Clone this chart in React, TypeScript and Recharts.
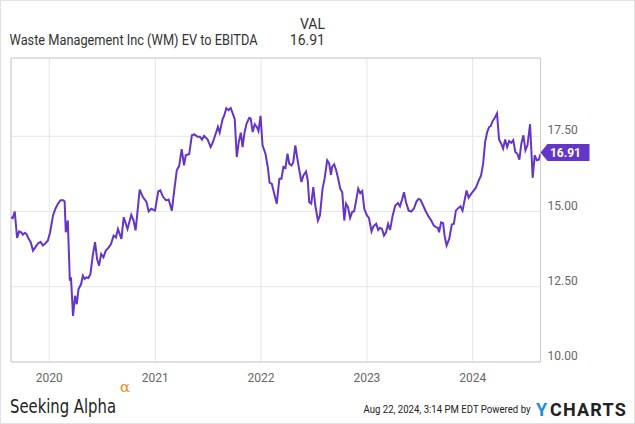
import { LineChart, Line, XAxis, YAxis, CartesianGrid, ReferenceArea, ReferenceDot } from 'recharts';

// WM EV/EBITDA (date, value)
const dates = [
  '2019-08-22', '2019-08-28', '2019-09-04', '2019-09-12', '2019-09-19', '2019-09-26', '2019-10-02', '2019-10-08',
  '2019-10-14', '2019-10-22', '2019-10-29', '2019-11-06', '2019-11-14', '2019-11-23', '2019-12-02', '2019-12-10',
  '2019-12-18', '2019-12-27', '2020-01-04', '2020-01-14', '2020-01-22', '2020-01-31', '2020-02-09', '2020-02-18',
  '2020-02-23', '2020-02-27', '2020-03-05', '2020-03-12', '2020-03-16', '2020-03-23', '2020-03-30', '2020-04-05',
  '2020-04-11', '2020-04-20', '2020-04-26', '2020-05-02', '2020-05-08', '2020-05-15', '2020-05-22', '2020-05-30',
  '2020-06-07', '2020-06-14', '2020-06-21', '2020-06-28', '2020-07-06', '2020-07-14', '2020-07-23', '2020-08-01',
  '2020-08-10', '2020-08-18', '2020-08-25', '2020-09-06', '2020-09-14', '2020-09-27', '2020-10-10', '2020-10-18',
  '2020-10-25', '2020-11-08', '2020-11-19', '2020-12-01', '2020-12-09', '2020-12-18', '2020-12-31', '2021-01-11',
  '2021-01-18', '2021-01-28', '2021-02-07', '2021-02-16', '2021-02-27', '2021-03-08', '2021-03-16', '2021-03-24',
  '2021-04-02', '2021-04-10', '2021-04-16', '2021-04-28', '2021-05-07', '2021-05-16', '2021-05-27', '2021-06-04',
  '2021-06-11', '2021-06-18', '2021-06-30', '2021-07-11', '2021-07-19', '2021-08-05', '2021-08-11', '2021-08-21',
  '2021-08-27', '2021-09-03', '2021-09-11', '2021-09-18', '2021-09-25', '2021-10-02', '2021-10-09', '2021-10-16',
  '2021-10-23', '2021-10-29', '2021-11-05', '2021-11-12', '2021-11-21', '2021-11-26', '2021-12-03', '2021-12-10',
  '2021-12-17', '2021-12-23', '2021-12-30', '2022-01-06', '2022-01-16', '2022-01-24', '2022-01-30', '2022-02-07',
  '2022-02-14', '2022-02-24', '2022-03-05', '2022-03-12', '2022-03-19', '2022-03-26', '2022-04-02', '2022-04-08',
  '2022-04-16', '2022-04-22', '2022-04-29', '2022-05-08', '2022-05-20', '2022-05-27', '2022-06-05', '2022-06-11',
  '2022-06-16', '2022-06-23', '2022-06-30', '2022-07-07', '2022-07-16', '2022-07-23', '2022-08-01', '2022-08-08',
  '2022-08-17', '2022-08-24', '2022-08-30', '2022-09-03', '2022-09-10', '2022-09-17', '2022-09-24', '2022-10-01',
  '2022-10-08', '2022-10-15', '2022-10-21', '2022-10-28', '2022-11-04', '2022-11-11', '2022-11-18', '2022-11-24',
  '2022-12-02', '2022-12-09', '2022-12-16', '2022-12-23', '2023-01-01', '2023-01-08', '2023-01-17', '2023-01-23',
  '2023-02-02', '2023-02-09', '2023-02-15', '2023-02-22', '2023-03-01', '2023-03-08', '2023-03-15', '2023-03-22',
  '2023-03-31', '2023-04-09', '2023-04-18', '2023-04-25', '2023-05-02', '2023-05-09', '2023-05-16', '2023-05-25',
  '2023-06-03', '2023-06-12', '2023-06-21', '2023-06-28', '2023-07-05', '2023-07-14', '2023-07-23', '2023-08-02',
  '2023-08-11', '2023-08-20', '2023-08-27', '2023-09-03', '2023-09-07', '2023-09-14', '2023-09-21', '2023-09-26',
  '2023-10-03', '2023-10-12', '2023-10-21', '2023-10-28', '2023-11-04', '2023-11-13', '2023-11-20', '2023-11-27',
  '2023-12-04', '2023-12-11', '2023-12-18', '2023-12-27', '2024-01-03', '2024-01-12', '2024-01-21', '2024-01-30',
  '2024-02-06', '2024-02-13', '2024-02-20', '2024-02-27', '2024-03-03', '2024-03-10', '2024-03-16', '2024-03-25',
  '2024-04-01', '2024-04-08', '2024-04-15', '2024-04-22', '2024-04-29', '2024-05-06', '2024-05-13', '2024-05-20',
  '2024-05-27', '2024-06-03', '2024-06-10', '2024-06-17', '2024-06-24', '2024-07-01', '2024-07-08', '2024-07-17',
  '2024-07-26', '2024-08-02', '2024-08-09', '2024-08-16', '2024-08-22',
];

const values = [
  14.8, 14.78, 15.0, 14.12, 14.34, 14.31, 14.23, 14.29,
  14.26, 14.09, 13.98, 13.7, 13.81, 13.94, 13.99, 13.87,
  13.94, 14.03, 14.31, 14.87, 15.09, 15.26, 15.37, 15.37,
  15.34, 14.31, 14.7, 12.7, 12.81, 11.53, 12.2, 11.92,
  12.42, 12.59, 12.87, 12.76, 12.81, 12.79, 12.92, 13.53,
  13.98, 13.42, 13.2, 13.59, 13.48, 13.7, 13.79, 13.92,
  14.2, 14.14, 14.42, 14.09, 14.81, 14.42, 14.89, 14.7,
  14.37, 15.73, 15.48, 15.33, 15.0, 15.09, 15.03, 15.67,
  15.7, 15.48, 15.37, 15.4, 15.03, 15.76, 16.37, 16.51,
  17.07, 16.53, 16.87, 16.91, 17.53, 17.56, 17.48, 17.48,
  17.39, 17.51, 17.4, 17.14, 17.31, 17.81, 17.62, 18.06,
  18.2, 18.43, 18.37, 18.44, 18.26, 18.07, 16.81, 17.31,
  17.62, 17.14, 17.64, 17.92, 18.11, 18.09, 17.64, 17.9,
  17.81, 17.67, 18.18, 17.2, 16.92, 16.48, 15.96, 15.92,
  15.64, 15.26, 16.09, 16.09, 16.48, 16.44, 16.92, 16.59,
  16.53, 16.64, 17.2, 16.64, 15.98, 16.2, 16.33, 16.03,
  15.31, 15.26, 15.81, 15.2, 14.7, 14.87, 15.76, 16.09,
  16.7, 16.59, 16.22, 16.48, 16.57, 16.37, 16.09, 15.76,
  15.64, 14.7, 15.26, 15.14, 14.79, 14.98, 15.01, 15.31,
  15.76, 15.61, 15.68, 15.09, 14.87, 14.79, 14.34, 14.5,
  14.59, 14.39, 14.46, 14.42, 14.2, 14.31, 14.59, 14.39,
  14.87, 15.2, 15.28, 15.17, 15.39, 15.64, 15.31, 15.03,
  15.0, 15.09, 15.33, 15.42, 15.39, 15.2, 15.01, 14.83,
  14.7, 14.53, 14.48, 14.46, 14.31, 14.64, 14.61, 14.2,
  13.87, 14.09, 14.57, 14.59, 15.03, 15.12, 15.17, 15.03,
  15.37, 15.7, 15.46, 15.59, 15.68, 15.79, 16.01, 16.2,
  16.59, 17.31, 17.64, 17.81, 17.83, 18.01, 18.09, 18.26,
  17.39, 17.26, 17.09, 17.39, 17.14, 17.34, 17.28, 17.37,
  16.98, 16.92, 16.72, 17.26, 17.53, 17.03, 17.2, 17.9,
  16.12, 16.87, 16.7, 16.72, 16.91,
];

const yearTicks = [2020, 2021, 2022, 2023, 2024];
const valueTicks = [10, 12.5, 15, 17.5];

const toTs = (s: string) => {
  const [y, m, d] = s.split('-').map(Number);
  return Date.UTC(y, m - 1, d);
};

const data = dates.map((d, i) => ({ t: toTs(d), v: values[i] }));
const xStart = data[0].t;
const xEnd = data[data.length - 1].t;
const lastValue = values[values.length - 1];

const PURPLE = '#6435c9';
const FONT = 'Roboto, "Noto Sans", sans-serif';
const NARROW = '"Liberation Sans Narrow", "DejaVu Sans Condensed", sans-serif';

const XTick = ({ x, y, payload }: any) => (
  <text x={x} y={y + 20} textAnchor="middle" fill="#666" fontSize={12} fontFamily={FONT}>
    {new Date(payload.value).getUTCFullYear()}
  </text>
);

const YTick = ({ x, y, payload }: any) => (
  <text x={x + 7} y={y - 2} textAnchor="start" fill="#666" fontSize={12} fontFamily={FONT}>
    {Number(payload.value).toFixed(2)}
  </text>
);

const Tag = ({ cx, cy }: any) => {
  const c = cy - 1.5;
  return (
    <g>
      <path
        d={`M${cx},${c} L${cx + 7},${c - 8.5} H${cx + 49} V${c + 8.5} H${cx + 7} Z`}
        fill={PURPLE}
      />
      <text x={cx + 25} y={c + 4.3} textAnchor="middle" fill="#fff" fontSize={12} fontWeight="bold" fontFamily={FONT}>
        {lastValue.toFixed(2)}
      </text>
    </g>
  );
};

export default function App() {
  return (
    <div
      style={{
        position: 'fixed',
        left: 0,
        top: 0,
        width: 635,
        height: 424,
        background: '#fff',
        boxSizing: 'border-box',
        border: '1px solid #e2e2e2',
        overflow: 'hidden',
      }}
    >
      <div style={{ position: 'absolute', left: -1, top: -1 }}>
        <LineChart width={635} height={424} data={data} margin={{ top: 58, right: 0, bottom: 0, left: 11 }}>
          <CartesianGrid stroke="#e6e6e6" strokeWidth={1} />
          <XAxis
            dataKey="t"
            type="number"
            scale="time"
            domain={[xStart, xEnd]}
            ticks={yearTicks.map((y) => Date.UTC(y, 0, 1))}
            interval={0}
            tick={<XTick />}
            tickLine={false}
            axisLine={false}
            tickSize={0}
            tickMargin={0}
            height={62}
            allowDataOverflow
          />
          <YAxis
            orientation="right"
            domain={[10, 20.1]}
            ticks={valueTicks}
            interval={0}
            tick={<YTick />}
            tickLine={false}
            axisLine={false}
            tickSize={0}
            tickMargin={0}
            width={94.5}
            allowDataOverflow
          />
          <ReferenceArea
            x1={xStart}
            x2={xEnd}
            y1={10}
            y2={20.1}
            fill="none"
            fillOpacity={0}
            stroke="#cccccc"
            strokeWidth={1}
            ifOverflow="visible"
          />
          <Line
            type="linear"
            dataKey="v"
            stroke={PURPLE}
            strokeWidth={2}
            dot={false}
            activeDot={false}
            isAnimationActive={false}
          />
          <ReferenceDot x={xEnd} y={lastValue} ifOverflow="visible" shape={<Tag />} />
        </LineChart>
      </div>
      <svg width={635} height={424} style={{ position: 'absolute', left: -1, top: -1, pointerEvents: 'none' }}>
        <text x={325} y={29} textAnchor="end" fontSize={14} fill="#333" fontFamily={FONT}>
          VAL
        </text>
        <text x={325} y={44.5} textAnchor="end" fontSize={14} fill="#333" fontFamily={FONT}>
          {lastValue.toFixed(2)}
        </text>
        <text
          x={9.5}
          y={44.5}
          fontSize={14.5}
          fill="#333"
          fontFamily={FONT}
          textLength={248}
          lengthAdjust="spacingAndGlyphs"
        >
          Waste Management Inc (WM) EV to EBITDA
        </text>

        <text
          x={10}
          y={413}
          fontSize={19}
          fill="#222"
          fontFamily={NARROW}
          textLength={106}
          lengthAdjust="spacingAndGlyphs"
        >
          Seeking Alpha
        </text>
        <text x={120} y={392} fontSize={15} fill="#f58a1f" fontFamily='"DejaVu Serif", serif'>
          α
        </text>
        <text transform="translate(363.5,413) scale(1,1.2)" x={0} y={0} fontSize={9.6} fill="#222" fontFamily={FONT}>
          Aug 22, 2024, 3:14 PM EDT Powered by
        </text>
        <text x={536} y={416} fontSize={18} fontWeight="bold" fontFamily={FONT} fill="#1a8fe3">
          Y
        </text>
        <text x={550} y={416} fontSize={18} fontWeight="bold" fontFamily={FONT} fill="#222" letterSpacing={1.2}>
          CHARTS
        </text>
      </svg>
    </div>
  );
}
